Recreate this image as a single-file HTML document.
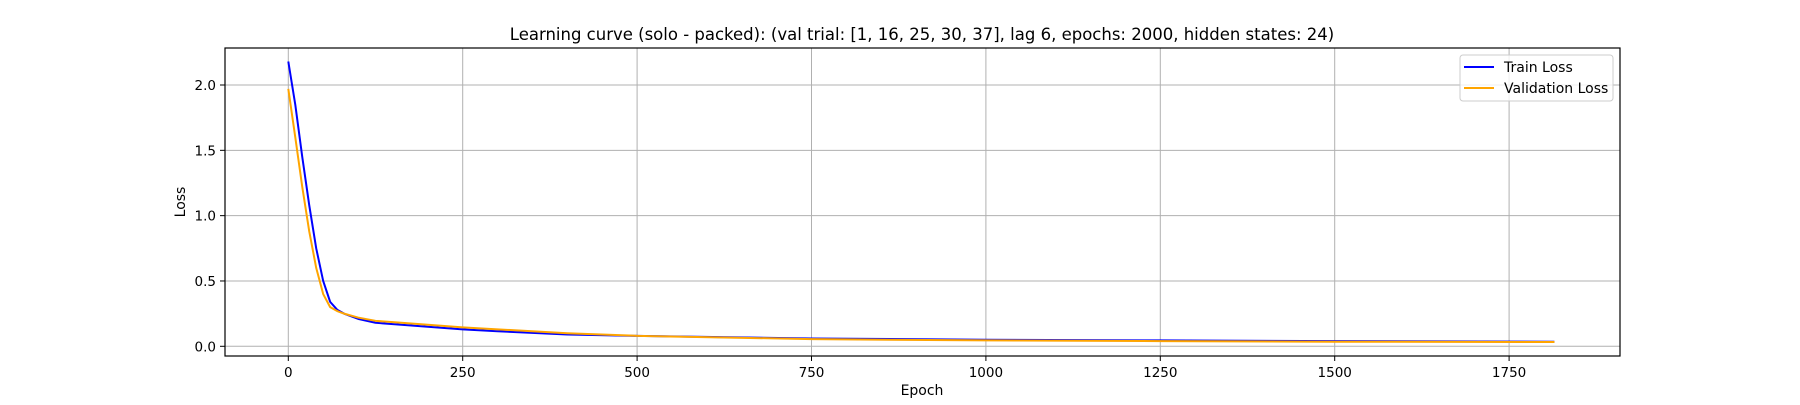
<!DOCTYPE html>
<html><head><meta charset="utf-8"><style>
body{margin:0;background:#fff;width:1800px;height:400px;overflow:hidden}
svg text{font-family:"DejaVu Sans","Liberation Sans",sans-serif;fill:#000}
</style></head><body>
<svg id="chart" width="1800" height="400" xmlns="http://www.w3.org/2000/svg">
<rect width="1800" height="400" fill="#fff"/>
<g id="grid"></g>
<g id="series"></g>
<rect x="225" y="48" width="1395" height="308" fill="none" stroke="#000" stroke-width="1.2"/>
<g id="ticks"></g>
<text x="922" y="40" text-anchor="middle" font-size="16.5">Learning curve (solo - packed): (val trial: [1, 16, 25, 30, 37], lag 6, epochs: 2000, hidden states: 24)</text>
<text x="922" y="395" text-anchor="middle" font-size="14">Epoch</text>
<text transform="translate(185,202) rotate(-90)" text-anchor="middle" font-size="14">Loss</text>
<g>
<rect x="1460" y="55" width="153" height="46" rx="3" fill="#fff" fill-opacity="0.8" stroke="#ccc"/>
<line x1="1464" y1="67" x2="1494" y2="67" stroke="#0000ff" stroke-width="2"/>
<text x="1504" y="72" font-size="14">Train Loss</text>
<line x1="1464" y1="88" x2="1494" y2="88" stroke="#ffa500" stroke-width="2"/>
<text x="1504" y="93" font-size="14">Validation Loss</text>
</g>
</svg>
<script>
const epochs=[0,10,20,30,40,50,60,70,80,100,125,150,200,250,300,400,500,750,1000,1250,1500,1815];
const trainLoss=[2.18,1.85,1.45,1.08,0.75,0.5,0.34,0.28,0.25,0.21,0.18,0.17,0.15,0.13,0.115,0.09,0.08,0.06,0.05,0.045,0.04,0.035];
const valLoss=[1.97,1.6,1.22,0.88,0.6,0.4,0.3,0.27,0.25,0.22,0.195,0.185,0.165,0.145,0.13,0.1,0.08,0.055,0.045,0.04,0.035,0.033];
const xTicks=[0,250,500,750,1000,1250,1500,1750];
const yTicks=[0.0,0.5,1.0,1.5,2.0];
const NS="http://www.w3.org/2000/svg";
const X=v=>288.3+v*174.4/250;
const Y=v=>346.3-v*130.65;
const grid=document.getElementById('grid'),ticks=document.getElementById('ticks'),series=document.getElementById('series');
function mk(tag,attrs,parent){const e=document.createElementNS(NS,tag);for(const k in attrs)e.setAttribute(k,attrs[k]);parent.appendChild(e);return e;}
xTicks.forEach(t=>{
 const g=mk('line',{x1:X(t),x2:X(t),y1:48,y2:356,stroke:'#b0b0b0','stroke-width':1},grid);
 
 
 mk('line',{x1:X(t),x2:X(t),y1:356,y2:361,stroke:'#000'},ticks);
 const l=mk('text',{x:X(t),y:377,'text-anchor':'middle','font-size':13.5},ticks);
 l.textContent=t;
 
 
});
yTicks.forEach(t=>{
 const g=mk('line',{x1:225,x2:1620,y1:Y(t),y2:Y(t),stroke:'#b0b0b0','stroke-width':1},grid);
 
 
 mk('line',{x1:220,x2:225,y1:Y(t),y2:Y(t),stroke:'#000'},ticks);
 const l=mk('text',{x:216,y:Y(t)+5,'text-anchor':'end','font-size':13.5},ticks);
 l.textContent=t.toFixed(1);
 
 
});
function line(vals,color,name){
 const p=mk('polyline',{points:epochs.map((e,i)=>X(e)+','+Y(vals[i])).join(' '),fill:'none',stroke:color,'stroke-width':2,'stroke-linejoin':'round'},series);
 
 
}
line(trainLoss,'#0000ff','train-loss-line');
line(valLoss,'#ffa500','validation-loss-line');
</script>
</body></html>
